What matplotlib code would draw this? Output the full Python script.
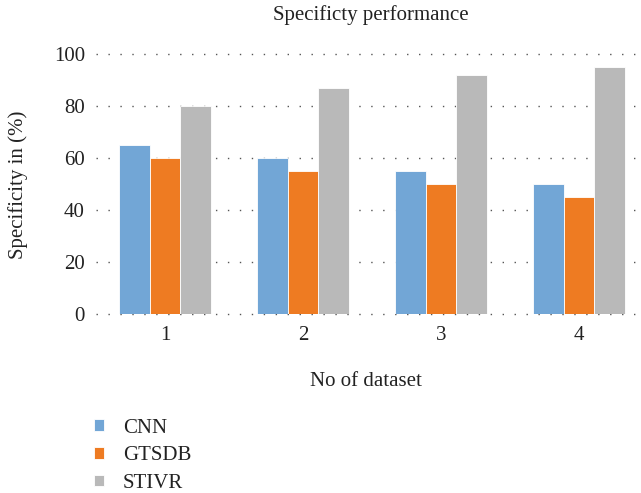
import matplotlib
matplotlib.use("Agg")
import matplotlib.pyplot as plt
import numpy as np

categories = ["1", "2", "3", "4"]
series_names = ["CNN", "GTSDB", "STIVR"]
cnn = [65, 60, 55, 50]
gtsdb = [60, 55, 50, 45]
stivr = [80, 87, 92, 95]
yticks = [0, 20, 40, 60, 80, 100]
colors = ["#72A6D6", "#EE7B22", "#B9B9B9"]

plt.rcParams['font.family'] = ['Liberation Serif', 'DejaVu Serif']
FS = 15

W, H = 641, 493
fig = plt.figure(figsize=(W / 100, H / 100), dpi=100)
left, right = 96, 648
bottom, top = 314, 54
ax = fig.add_axes([left / W, 1 - bottom / H, (right - left) / W, (bottom - top) / H])

x = np.arange(len(categories))
bw = 0.222
handles = []
for i, (vals, name) in enumerate(zip([cnn, gtsdb, stivr], series_names)):
    b = ax.bar(x + (i - 1) * bw, vals, bw, color=colors[i], edgecolor="white",
               linewidth=0.6, label=name, zorder=3)
    handles.append(b)

ax.set_xlim(-0.5, 3.5)
ax.set_ylim(0, 100)
ax.set_yticks(yticks)
ax.set_xticks(x)
ax.set_xticklabels(categories)
for yv in yticks:
    ax.axhline(yv, color="#555555", linewidth=1.0, dashes=(1.0, 7.6), zorder=1, clip_on=False)
for s in ax.spines.values():
    s.set_visible(False)
ax.tick_params(axis="both", length=0, labelsize=FS, colors="#222222", pad=8)
ax.tick_params(axis="x", pad=9)

fig.text(371 / W, 1 - 15 / H, "Specificty performance", ha="center", va="center", fontsize=FS, color="#222222")
fig.text(366 / W, 1 - 381 / H, "No of dataset", ha="center", va="center", fontsize=FS, color="#222222")
fig.text(18 / W, 1 - 185 / H, "Specificity in (%)", ha="center", va="center", rotation=90, fontsize=FS, color="#222222")

fig.legend(handles=handles, labels=series_names, loc="upper left",
           bbox_to_anchor=(75 / W, 1 - 400 / H), frameon=False, fontsize=FS,
           handlelength=0.5, handleheight=0.5, handletextpad=0.9, labelspacing=0.41,
           labelcolor="#222222")

fig.savefig("out.png", dpi=100)
